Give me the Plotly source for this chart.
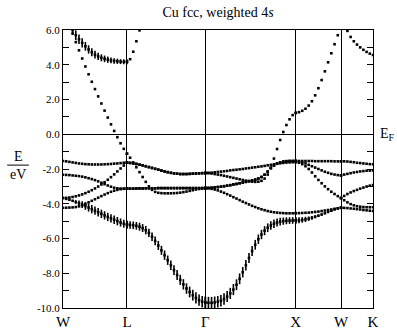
import numpy as np
import plotly.graph_objects as go

# high-symmetry points along the fcc path and their cumulative k-distance (2pi/a)
kpoint_labels = ["W", "L", "Γ", "X", "W", "K"]
kpoint_pos = [0.0, 0.70711, 1.57314, 2.57314, 3.07314, 3.42669]
seg_npts = [21, 26, 30, 15, 11]   # k-points per segment (W-L, L-G, G-X, X-W, W-K)

N = None
# band energies (eV, relative to E_F), one list per path segment
band1 = [  # s-like band (fat)
    [-3.67,-3.72,-3.77,-3.83,-3.90,-3.97,-4.05,-4.13,-4.22,-4.31,-4.40,-4.49,-4.58,-4.67,-4.76,-4.84,-4.92,-5.00,-5.08,-5.15,-5.20],
    [-5.20,-5.22,-5.24,-5.27,-5.32,-5.40,-5.52,-5.68,-5.90,-6.14,-6.40,-6.68,-6.96,-7.25,-7.54,-7.82,-8.10,-8.38,-8.64,-8.88,-9.08,-9.26,-9.42,-9.55,-9.64,-9.68],
    [-9.68,-9.70,-9.70,-9.68,-9.64,-9.58,-9.48,-9.34,-9.16,-8.94,-8.66,-8.32,-7.94,-7.54,-7.12,-6.72,-6.36,-6.04,-5.77,-5.55,-5.38,-5.25,-5.15,-5.08,-5.03,-5.00,-4.98,-4.97,-4.96,-4.96],
    [-4.96,-4.95,-4.93,-4.90,-4.86,-4.81,-4.75,-4.69,-4.62,-4.55,-4.47,-4.40,-4.33,-4.27,-4.23],
    [-4.23,-4.24,-4.25,-4.27,-4.29,-4.31,-4.33,-4.36,-4.38,-4.40,-4.42],
]
band2 = [
    [-4.23,-4.23,-4.22,-4.21,-4.19,-4.15,-4.09,-4.01,-3.92,-3.83,-3.74,-3.65,-3.56,-3.47,-3.39,-3.31,-3.25,-3.20,-3.16,-3.14,-3.13],
    [-3.13,-3.13,-3.13,-3.12,-3.12,-3.12,-3.11,-3.11,-3.11,-3.11,-3.10,-3.10,-3.10,-3.10,-3.10,-3.10,-3.10,-3.10,-3.10,-3.10,-3.10,-3.10,-3.10,-3.10,-3.10,-3.10],
    [-3.10,-3.11,-3.14,-3.18,-3.23,-3.30,-3.37,-3.45,-3.53,-3.62,-3.70,-3.79,-3.88,-3.96,-4.04,-4.12,-4.19,-4.26,-4.32,-4.37,-4.42,-4.46,-4.49,-4.51,-4.53,-4.54,-4.55,-4.55,-4.55,-4.54],
    [-4.54,-4.54,-4.53,-4.52,-4.51,-4.49,-4.47,-4.45,-4.42,-4.39,-4.36,-4.33,-4.29,-4.26,-4.23],
    [-3.67,-3.55,-3.44,-3.35,-3.27,-3.20,-3.13,-3.07,-3.01,-2.96,-2.92],
]
band3 = [
    [-3.67,-3.66,-3.64,-3.61,-3.57,-3.52,-3.46,-3.39,-3.31,-3.22,-3.12,-3.01,-2.89,-2.76,-2.62,-2.47,-2.31,-2.14,-1.97,-1.80,-1.63],
    [-1.63,-1.65,-1.68,-1.71,-1.75,-1.79,-1.84,-1.89,-1.94,-1.99,-2.04,-2.09,-2.14,-2.18,-2.22,-2.25,-2.27,-2.29,-2.29,-2.29,-2.28,-2.27,-2.26,-2.25,-2.24,-2.23],
    [-2.23,-2.24,-2.26,-2.29,-2.32,-2.35,-2.39,-2.43,-2.47,-2.51,-2.55,-2.59,-2.63,-2.67,-2.70,-2.73,-2.74,-2.73,-2.68,-2.55,-2.32,-1.92,-1.40,-0.85,-0.33,0.13,0.53,0.86,1.10,1.23],
    [1.23,1.27,1.35,1.47,1.65,1.90,2.24,2.65,3.12,3.62,4.14,4.66,5.18,5.70,6.20],
    [N,N,N,N,N,N,N,N,N,N,N],
]
band4 = [
    [-2.33,-2.34,-2.35,-2.37,-2.39,-2.41,-2.44,-2.48,-2.53,-2.58,-2.64,-2.71,-2.79,-2.87,-2.95,-3.02,-3.08,-3.11,-3.13,-3.13,-3.13],
    [-3.13,-3.13,-3.13,-3.12,-3.12,-3.12,-3.11,-3.11,-3.11,-3.11,-3.10,-3.10,-3.10,-3.10,-3.10,-3.10,-3.10,-3.10,-3.10,-3.10,-3.10,-3.10,-3.10,-3.10,-3.10,-3.10],
    [-3.10,-3.09,-3.08,-3.06,-3.04,-3.02,-2.99,-2.96,-2.93,-2.89,-2.86,-2.82,-2.78,-2.74,-2.70,-2.66,-2.61,-2.55,-2.46,-2.33,-2.15,-1.95,-1.80,-1.69,-1.62,-1.57,-1.55,-1.54,-1.54,-1.54],
    [-1.54,-1.54,-1.54,-1.54,-1.54,-1.54,-1.55,-1.55,-1.55,-1.55,-1.55,-1.55,-1.56,-1.56,-1.56],
    [-1.56,-1.56,-1.57,-1.59,-1.61,-1.64,-1.66,-1.68,-1.70,-1.72,-1.73],
]
band5 = [
    [-1.54,-1.56,-1.59,-1.62,-1.65,-1.68,-1.70,-1.72,-1.73,-1.74,-1.74,-1.74,-1.74,-1.73,-1.72,-1.71,-1.69,-1.68,-1.66,-1.64,-1.63],
    [-1.63,-1.65,-1.68,-1.71,-1.75,-1.79,-1.84,-1.89,-1.94,-1.99,-2.04,-2.09,-2.14,-2.18,-2.22,-2.25,-2.27,-2.29,-2.29,-2.29,-2.28,-2.27,-2.26,-2.25,-2.24,-2.23],
    [-2.23,-2.22,-2.21,-2.19,-2.17,-2.15,-2.13,-2.11,-2.08,-2.06,-2.04,-2.02,-2.00,-1.97,-1.95,-1.92,-1.90,-1.87,-1.85,-1.82,-1.79,-1.76,-1.73,-1.70,-1.67,-1.65,-1.63,-1.62,-1.61,-1.60],
    [-1.60,-1.64,-1.72,-1.84,-2.00,-2.20,-2.42,-2.63,-2.82,-3.00,-3.16,-3.31,-3.44,-3.56,-3.67],
    [-3.67,-3.80,-3.92,-4.02,-4.09,-4.14,-4.17,-4.19,-4.20,-4.20,-4.20],
]
band6 = [
    [7.30,6.80,6.30,5.80,5.30,4.83,4.36,3.90,3.45,3.02,2.60,2.18,1.77,1.36,0.96,0.57,0.19,-0.17,-0.52,-0.84,-1.12],
    [-1.12,-1.35,-1.62,-1.90,-2.18,-2.46,-2.74,-3.00,-3.20,-3.32,-3.37,-3.39,-3.40,-3.40,-3.40,-3.39,-3.38,-3.36,-3.33,-3.30,-3.26,-3.22,-3.18,-3.15,-3.12,-3.10],
    [-3.10,-3.09,-3.08,-3.06,-3.04,-3.02,-2.99,-2.96,-2.93,-2.89,-2.86,-2.82,-2.78,-2.74,-2.70,-2.66,-2.61,-2.55,-2.46,-2.33,-2.15,-1.95,-1.80,-1.69,-1.62,-1.57,-1.55,-1.54,-1.54,-1.54],
    [-1.54,-1.57,-1.62,-1.68,-1.76,-1.84,-1.92,-2.00,-2.08,-2.16,-2.22,-2.28,-2.32,-2.35,-2.37],
    [-2.37,-2.32,-2.28,-2.24,-2.20,-2.17,-2.14,-2.12,-2.10,-2.09,-2.08],
]
band7 = [  # upper band (fat near L)
    [7.40,6.90,6.40,6.00,5.70,5.47,5.26,5.06,4.88,4.72,4.58,4.48,4.40,4.34,4.29,4.25,4.22,4.20,4.18,4.17,4.17],
    [4.17,4.32,4.75,5.35,5.98,6.60,7.20,N,N,N,N,N,N,N,N,N,N,N,N,N,N,N,N,N,N,N],
    [N]*30,
    [N]*15,
    [6.90,6.40,5.95,5.60,5.35,5.16,5.00,4.86,4.74,4.64,4.56],
]
# 4s weight (half-length of the fat-band bar, eV)
s_weight1 = [
    [0,0,0.02,0.05,0.10,0.15,0.19,0.22,0.23,0.24,0.24,0.24,0.24,0.24,0.24,0.24,0.24,0.24,0.23,0.23,0.22],
    [0.22,0.22,0.22,0.22,0.23,0.23,0.24,0.24,0.25,0.25,0.26,0.26,0.27,0.27,0.28,0.28,0.29,0.29,0.30,0.30,0.31,0.31,0.32,0.32,0.33,0.33],
    [0.34,0.34,0.34,0.34,0.33,0.33,0.33,0.32,0.32,0.32,0.31,0.31,0.30,0.30,0.29,0.29,0.28,0.27,0.27,0.26,0.25,0.25,0.24,0.23,0.22,0.21,0.20,0.19,0.19,0.18],
    [0.18,0.17,0.16,0.15,0.13,0.11,0.09,0.07,0.05,0.03,0.01,0,0,0,0],
    [0,0,0,0,0,0,0,0,0,0,0],
]
s_weight7 = [
    [0.28,0.28,0.28,0.28,0.28,0.27,0.26,0.25,0.24,0.23,0.22,0.21,0.20,0.19,0.18,0.17,0.16,0.15,0.14,0.14,0.14],
    [0]*26, [0]*30, [0]*15, [0]*11,
]

energy_ticks = list(range(-10, 7))
energy_ticktext = [f"{v:.1f}" if v % 2 == 0 else " " for v in energy_ticks]

FONT = "Liberation Serif, DejaVu Serif, serif"

# k coordinates of each sampled point
kseg = [np.linspace(kpoint_pos[i], kpoint_pos[i + 1], seg_npts[i]) for i in range(5)]


def flat(segs):
    out = []
    for s in segs:
        out.extend(s)
    return out


kx = flat([list(k) for k in kseg])

fig = go.Figure()
bands = [band1, band2, band3, band4, band5, band6, band7]
weights = {0: s_weight1, 6: s_weight7}
for i, b in enumerate(bands):
    y = flat(b)
    tr = dict(x=kx, y=y, mode="markers",
              marker=dict(symbol="square", size=2.6, color="black", line=dict(width=0)),
              hoverinfo="skip", showlegend=False, cliponaxis=True)
    if i in weights:
        tr["error_y"] = dict(type="data", array=flat(weights[i]), symmetric=True,
                             thickness=1.6, width=0, color="black", visible=True)
    fig.add_trace(go.Scatter(**tr))

fig.update_layout(
    width=397, height=331,
    margin=dict(l=63, r=24, t=30, b=23, autoexpand=False),
    paper_bgcolor="white", plot_bgcolor="white",
    showlegend=False,
    title=dict(text="Cu fcc, weighted 4<i>s</i>", x=0.5, xref="paper", xanchor="center",
               y=1 - 12 / 331, yref="container", yanchor="middle",
               font=dict(family=FONT, size=14, color="black")),
    xaxis=dict(range=[kpoint_pos[0], kpoint_pos[-1]], tickvals=kpoint_pos, ticktext=kpoint_labels,
               showgrid=True, gridcolor="black", gridwidth=1, zeroline=False,
               showline=True, mirror=True, linecolor="black", linewidth=1, automargin=False,
               ticks="", tickfont=dict(family=FONT, size=15, color="black")),
    yaxis=dict(range=[-10, 6], tickvals=energy_ticks, ticktext=energy_ticktext,
               ticks="inside", ticklen=6, tickwidth=1, tickcolor="black", automargin=False,
               showline=True, mirror="ticks", linecolor="black", linewidth=1,
               showgrid=False, zeroline=True, zerolinecolor="black", zerolinewidth=1,
               tickfont=dict(family=FONT, size=11, color="black")),
    annotations=[
        dict(text="E", xref="paper", yref="paper", x=-0.145, y=0.545, showarrow=False,
             font=dict(family=FONT, size=14, color="black"), xanchor="center", yanchor="middle"),
        dict(text="eV", xref="paper", yref="paper", x=-0.145, y=0.48, showarrow=False,
             font=dict(family=FONT, size=14, color="black"), xanchor="center", yanchor="middle"),
        dict(text="E<sub>F</sub>", xref="paper", yref="y", x=1.015, y=0, showarrow=False,
             font=dict(family=FONT, size=14, color="black"), xanchor="left", yanchor="middle"),
    ],
    shapes=[dict(type="line", xref="paper", yref="paper", x0=-0.18, x1=-0.11, y0=0.514, y1=0.514,
                 line=dict(color="black", width=1))],
)

fig.write_html("out.html")
